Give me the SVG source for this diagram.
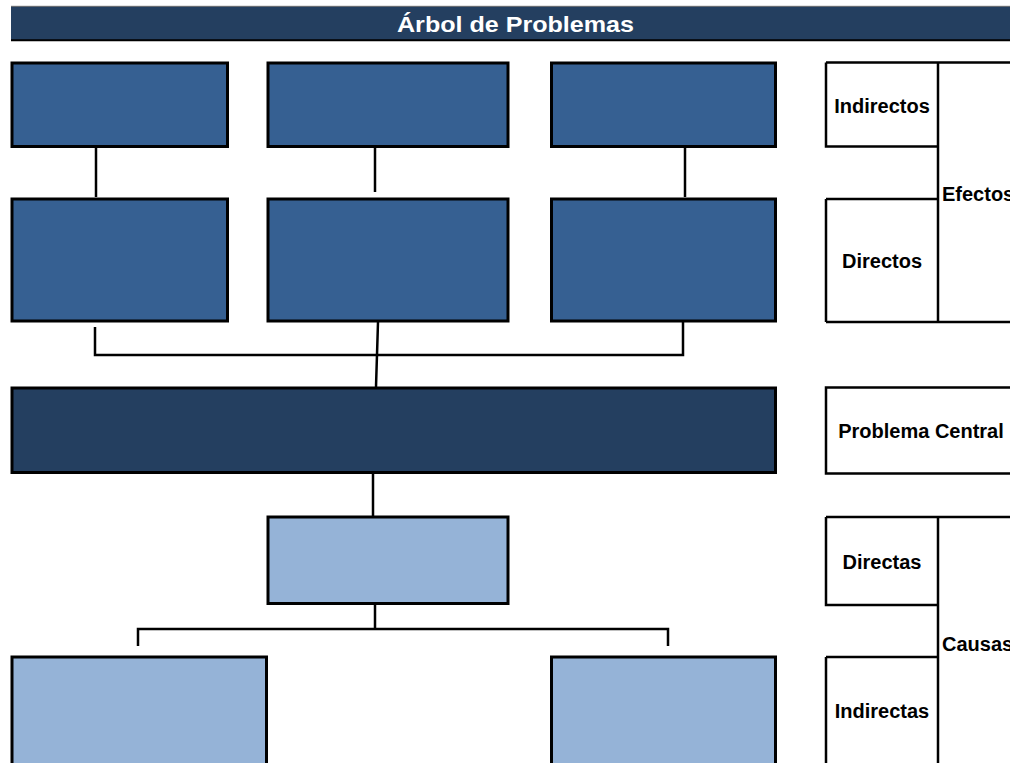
<svg xmlns="http://www.w3.org/2000/svg" width="1010" height="763" viewBox="0 0 1010 763">
<style>
.fx{fill:#366092;stroke:#000;stroke-width:3}
.cp{fill:#243F60;stroke:#000;stroke-width:3}
.cs{fill:#95B3D7;stroke:#000;stroke-width:3}
.ln{fill:none;stroke:#000;stroke-width:2.5}
.lb{fill:none;stroke:#000;stroke-width:2.5}
.t{font-family:"Liberation Sans",Arial,sans-serif;font-weight:bold;font-size:20px;fill:#000}
.title{font-family:"Liberation Sans",Arial,sans-serif;font-weight:bold;font-size:22px;fill:#fff}
</style>
<rect width="1010" height="763" fill="#fff"/>
<g id="title">
<rect x="11" y="6" width="1000" height="34" fill="#243F60"/>
<line x1="11" y1="6.3" x2="1010" y2="6.3" stroke="#777" stroke-width="1"/>
<line x1="11" y1="40.3" x2="1010" y2="40.3" stroke="#000" stroke-width="2"/>
<text class="title" x="515.5" y="32" text-anchor="middle" textLength="237" lengthAdjust="spacingAndGlyphs">Árbol de Problemas</text>
</g>
<g id="connectors">
<line class="ln" x1="96" y1="148" x2="96" y2="197"/>
<line class="ln" x1="375" y1="148" x2="375" y2="192"/>
<line class="ln" x1="685" y1="148" x2="685" y2="197"/>
<path class="ln" d="M95,327 V355 H683 V322"/>
<line class="ln" x1="378" y1="322" x2="376" y2="387"/>
<line class="ln" x1="373" y1="474" x2="373" y2="520"/>
<line class="ln" x1="375" y1="605" x2="375" y2="629"/>
<path class="ln" d="M138,646 V629 H668 V646"/>
</g>
<g id="efecto-ind-1"><rect class="fx" x="12" y="63" width="215.5" height="83.5"/></g>
<g id="efecto-ind-2"><rect class="fx" x="268" y="63" width="240" height="83.5"/></g>
<g id="efecto-ind-3"><rect class="fx" x="551.5" y="63" width="224" height="83.5"/></g>
<g id="efecto-dir-1"><rect class="fx" x="12" y="199" width="215.5" height="122"/></g>
<g id="efecto-dir-2"><rect class="fx" x="268" y="199" width="240" height="122"/></g>
<g id="efecto-dir-3"><rect class="fx" x="551.5" y="199" width="224" height="122"/></g>
<g id="problema-central"><rect class="cp" x="12" y="388" width="763.5" height="84.5"/></g>
<g id="causa-dir-1"><rect class="cs" x="268" y="517" width="240" height="86.5"/></g>
<g id="causa-ind-1"><rect class="cs" x="12" y="657" width="254.5" height="120"/></g>
<g id="causa-ind-2"><rect class="cs" x="551.5" y="657" width="224" height="120"/></g>
<g id="label-efectos">
<path class="lb" d="M826,62.5 H1012 M826,62.5 V146.5 H938 M938,62.5 V322 M826,199 H938 M826,199 V322 M826,322 H1012"/>
<text class="t" x="882" y="112.5" text-anchor="middle">Indirectos</text>
<text class="t" x="882" y="267.5" text-anchor="middle">Directos</text>
<text class="t" x="942" y="200.5">Efectos</text>
</g>
<g id="label-problema">
<path class="lb" d="M1012,387.5 H826 V473.5 H1012"/>
<text class="t" x="921" y="438" text-anchor="middle">Problema Central</text>
</g>
<g id="label-causas">
<path class="lb" d="M826,517 H1012 M826,517 V605 H938 M938,517 V765 M826,657 H938 M826,657 V765"/>
<text class="t" x="882" y="569" text-anchor="middle">Directas</text>
<text class="t" x="882" y="718" text-anchor="middle">Indirectas</text>
<text class="t" x="942" y="650.5">Causas</text>
</g>
</svg>
